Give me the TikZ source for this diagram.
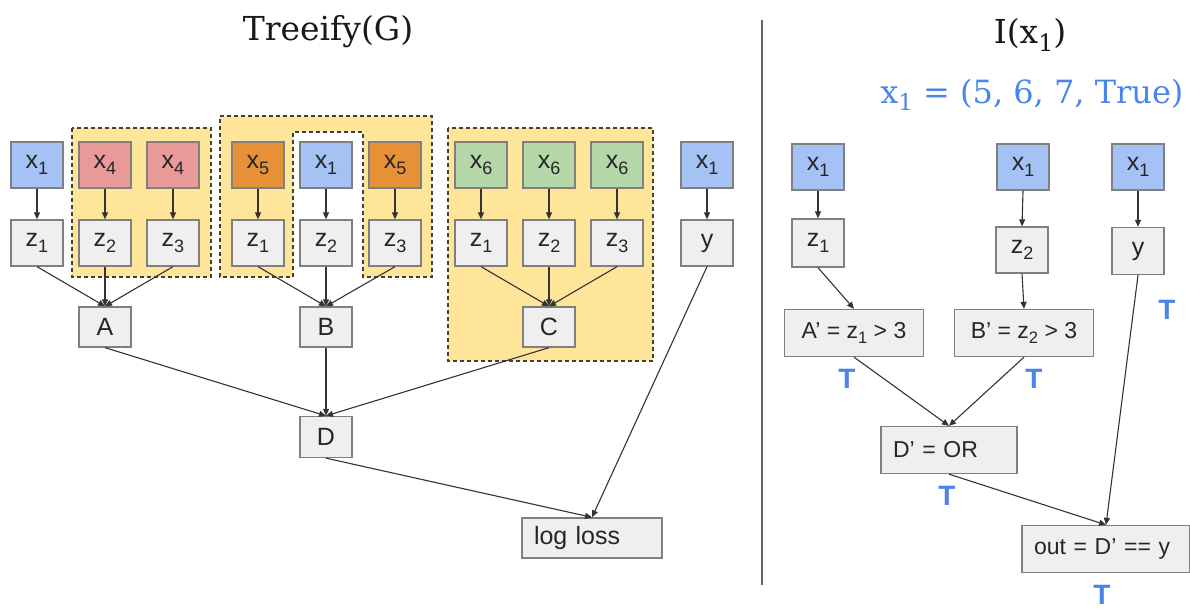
\documentclass[tikz,border=0pt]{standalone}
\usepackage{fontspec}
\setmainfont{Liberation Sans}
\newfontfamily\titlefont{DejaVu Serif}
\usetikzlibrary{arrows.meta}
\definecolor{boxgray}{HTML}{EFEFEF}
\definecolor{boxline}{HTML}{808080}
\definecolor{xblue}{HTML}{A4C2F4}
\definecolor{xred}{HTML}{EA9999}
\definecolor{xorange}{HTML}{E69138}
\definecolor{xgreen}{HTML}{B6D7A8}
\definecolor{grp}{HTML}{FFE599}
\definecolor{tblue}{HTML}{4A86E8}
\definecolor{wire}{HTML}{333333}
\definecolor{divider}{HTML}{666666}
\newcommand\sbs[1]{\raisebox{-0.42ex}{\scalebox{0.72}{#1}}}
\begin{document}
\begin{tikzpicture}[x=1pt,y=-1pt,
  box/.style={draw=boxline, line width=1.3pt, fill=boxgray, minimum width=52pt,
    minimum height=46pt, inner sep=0pt, text=black!85, font=\fontsize{25}{30}\selectfont},
  opbox/.style={box, minimum height=40pt},
  wide/.style={draw=boxline, line width=1.3pt, fill=boxgray, inner xsep=12pt, inner ysep=0pt,
    minimum height=47pt, text=black!85, align=left, font=\fontsize{23}{28}\selectfont},
  group/.style={fill=grp, draw=black!75, line width=1.3pt, dash pattern=on 4pt off 3pt},
  arr/.style={draw=wire, line width=1.1pt, -{Triangle[length=7pt,width=6pt]}},
  ttl/.style={font=\titlefont\fontsize{33}{40}\selectfont, text=black!90},
  tv/.style={text=tblue, font=\bfseries\fontsize{28}{32}\selectfont, inner sep=0pt}]
\useasboundingbox (0,0) rectangle (1190,612);

% ---------- left panel: Treeify(G) ----------
\node[ttl] (ttlL) at (328,32) {Treeify(G)};

% shaded groups
\path[group] (72,128) rectangle (211,277);
\path[group] (220,116) -- (432,116) -- (432,277) -- (363,277) -- (363,132)
  -- (293,132) -- (293,277) -- (220,277) -- cycle;
\path[group] (448,128) rectangle (653,361);

% input row
\node[box,fill=xblue]   (lx1)  at (37,165)  {x\sbs{1}};
\node[box,fill=xred]    (lx4a) at (105,165) {x\sbs{4}};
\node[box,fill=xred]    (lx4b) at (173,165) {x\sbs{4}};
\node[box,fill=xorange] (lx5a) at (258,165) {x\sbs{5}};
\node[box,fill=xblue]   (lx1b) at (326,165) {x\sbs{1}};
\node[box,fill=xorange] (lx5b) at (395,165) {x\sbs{5}};
\node[box,fill=xgreen]  (lx6a) at (481,165) {x\sbs{6}};
\node[box,fill=xgreen]  (lx6b) at (549,165) {x\sbs{6}};
\node[box,fill=xgreen]  (lx6c) at (617,165) {x\sbs{6}};
\node[box,fill=xblue]   (lx1c) at (707,165) {x\sbs{1}};

% feature row
\node[box] (az1) at (37,243)  {z\sbs{1}};
\node[box] (az2) at (105,243) {z\sbs{2}};
\node[box] (az3) at (173,243) {z\sbs{3}};
\node[box] (bz1) at (258,243) {z\sbs{1}};
\node[box] (bz2) at (326,243) {z\sbs{2}};
\node[box] (bz3) at (395,243) {z\sbs{3}};
\node[box] (cz1) at (481,243) {z\sbs{1}};
\node[box] (cz2) at (549,243) {z\sbs{2}};
\node[box] (cz3) at (617,243) {z\sbs{3}};
\node[box] (ly)  at (707,243) {y};

% operators
\node[opbox] (A) at (105,327) {A};
\node[opbox] (B) at (326,327) {B};
\node[opbox] (C) at (549,327) {C};
\node[opbox,minimum height=41pt] (D) at (326,437) {D};
\node[wide,minimum height=40pt,text width=116pt,inner xsep=12pt,
  font=\fontsize{25}{30}\selectfont] (loss) at (592,538) {log loss};

\foreach \u/\v in {lx1/az1,lx4a/az2,lx4b/az3,lx5a/bz1,lx1b/bz2,lx5b/bz3,lx6a/cz1,lx6b/cz2,lx6c/cz3,lx1c/ly}
  \draw[arr] (\u.south) -- (\v.north);
\foreach \u in {az1,az2,az3} \draw[arr] (\u.south) -- (A.north);
\foreach \u in {bz1,bz2,bz3} \draw[arr] (\u.south) -- (B.north);
\foreach \u in {cz1,cz2,cz3} \draw[arr] (\u.south) -- (C.north);
\foreach \u in {A,B,C} \draw[arr] (\u.south) -- (D.north);
\draw[arr] (D.south) -- (loss.north);
\draw[arr] (ly.south) -- (loss.north);

% divider
\coordinate (divtop) at (762,20);
\coordinate (divbot) at (762,585);
\draw[divider, line width=1.6pt] (divtop) -- (divbot);

% ---------- right panel: I(x1) ----------
\node[ttl] (ttlR) at (1030,35) {I(x\sbs{1})};
\node[ttl, text=tblue, anchor=east, font=\titlefont\fontsize{32}{38}\selectfont]
  (vals) at (1187,95) {x\sbs{1} = (5, 6, 7, True)};

\node[box,fill=xblue] (rx1a) at (818,167)  {x\sbs{1}};
\node[box,fill=xblue] (rx1b) at (1023,167) {x\sbs{1}};
\node[box,fill=xblue] (rx1c) at (1138,167) {x\sbs{1}};
\node[box,minimum height=48pt] (rz1) at (818,243)  {z\sbs{1}};
\node[box,minimum height=46pt] (rz2) at (1022,250) {z\sbs{2}};
\node[box,minimum height=47pt] (ry)  at (1138,251) {y};

\node[wide,minimum width=139pt,align=center] (Ap) at (854,333) {A' = z\sbs{1} > 3};
\node[wide,minimum width=139pt,align=center] (Bp) at (1024,333) {B' = z\sbs{2} > 3};
\node[wide,text width=112pt] (Dp) at (949,450) {D' = OR};
\node[wide,text width=144pt] (out) at (1106,549) {out = D' == y};

\node[tv] (tA)   at (847,379)  {T};
\node[tv] (tB)   at (1034,379) {T};
\node[tv] (ty)   at (1167,310) {T};
\node[tv] (tD)   at (947,496)  {T};
\node[tv] (tout) at (1102,595) {T};

\foreach \u/\v in {rx1a/rz1,rx1b/rz2,rx1c/ry}
  \draw[arr] (\u.south) -- (\v.north);
\draw[arr] (rz1.south) -- (Ap.north);
\draw[arr] (rz2.south) -- (Bp.north);
\draw[arr] (Ap.south) -- (Dp.north);
\draw[arr] (Bp.south) -- (Dp.north);
\draw[arr] (Dp.south) -- (out.north);
\draw[arr] (ry.south) -- (out.north);
\end{tikzpicture}
\end{document}
